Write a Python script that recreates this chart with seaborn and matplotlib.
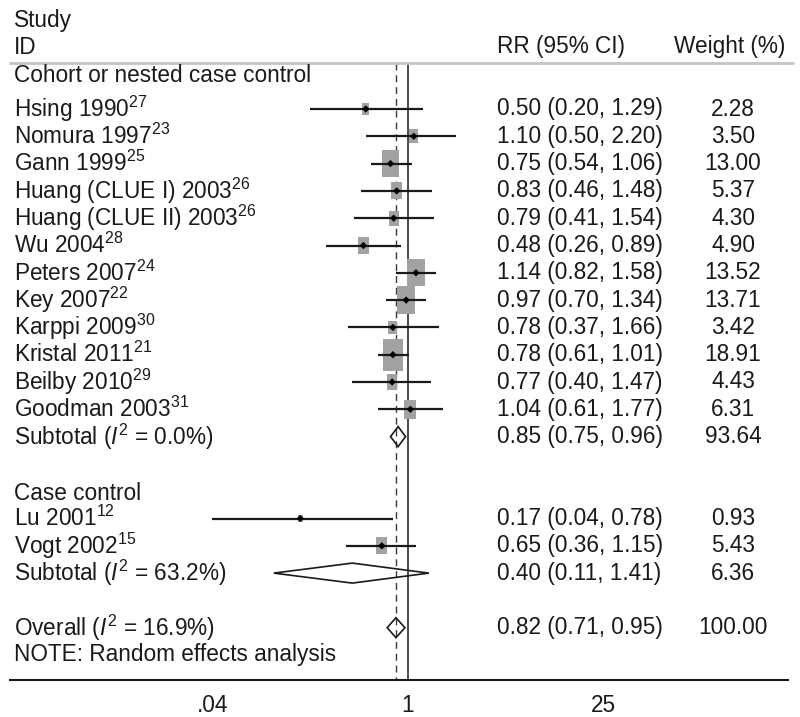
import numpy as np
import pandas as pd
import seaborn as sns
import matplotlib
matplotlib.use("Agg")
import matplotlib.pyplot as plt
from matplotlib import transforms
from matplotlib.markers import MarkerStyle
from matplotlib.path import Path
from matplotlib.ticker import NullLocator

# study level data
cohort_names = ["Hsing 1990", "Nomura 1997", "Gann 1999", "Huang (CLUE I) 2003",
                "Huang (CLUE II) 2003", "Wu 2004", "Peters 2007", "Key 2007",
                "Karppi 2009", "Kristal 2011", "Beilby 2010", "Goodman 2003"]
cohort_refs = ["27", "23", "25", "26", "26", "28", "24", "22", "30", "21", "29", "31"]
cohort_rr = [0.50, 1.10, 0.75, 0.83, 0.79, 0.48, 1.14, 0.97, 0.78, 0.78, 0.77, 1.04]
cohort_lo = [0.20, 0.50, 0.54, 0.46, 0.41, 0.26, 0.82, 0.70, 0.37, 0.61, 0.40, 0.61]
cohort_hi = [1.29, 2.20, 1.06, 1.48, 1.54, 0.89, 1.58, 1.34, 1.66, 1.01, 1.47, 1.77]
cohort_w = [2.28, 3.50, 13.00, 5.37, 4.30, 4.90, 13.52, 13.71, 3.42, 18.91, 4.43, 6.31]

case_names = ["Lu 2001", "Vogt 2002"]
case_refs = ["12", "15"]
case_rr = [0.17, 0.65]
case_lo = [0.04, 0.36]
case_hi = [0.78, 1.15]
case_w = [0.93, 5.43]

# pooled estimates: cohort subtotal, case control subtotal, overall
pooled_labels = ["Subtotal", "Subtotal", "Overall"]
pooled_i2 = ["0.0", "63.2", "16.9"]
pooled_rr = [0.85, 0.40, 0.82]
pooled_lo = [0.75, 0.11, 0.71]
pooled_hi = [0.96, 1.41, 0.95]
pooled_w = [93.64, 6.36, 100.00]

tick_vals = [0.04, 1, 25]
tick_labels = [".04", "1", "25"]

sns.set_style("white")
plt.rcParams["font.family"] = ["Liberation Sans", "DejaVu Sans"]
plt.rcParams["mathtext.fontset"] = "custom"
plt.rcParams["mathtext.rm"] = "Liberation Sans"
plt.rcParams["mathtext.it"] = "Liberation Sans:italic"
FS = 16.3
INK = "#1a1a1a"

# layout in pixels of the 800x717 picture
X_ONE, PX_DEC = 408, 140
ROW0, STEP = 109, 27.3

fig = plt.figure(figsize=(8, 7.17), dpi=100)
ax = fig.add_axes([10 / 800, (717 - 680) / 717, 778 / 800, 680 / 717])
ax.set_xscale("log")
ax.set_xlim(10 ** ((10 - X_ONE) / PX_DEC), 10 ** ((788 - X_ONE) / PX_DEC))
ax.set_ylim((680 - ROW0) / STEP, (0 - ROW0) / STEP)

# rows
cohort_rows = list(range(len(cohort_names)))
sub1_row = len(cohort_names)
case_head_row = sub1_row + 2.1
case_rows = [sub1_row + 3 + i for i in range(len(case_names))]
sub2_row = case_rows[-1] + 1
overall_row = sub2_row + 2
note_row = overall_row + 1
pooled_rows = [sub1_row, sub2_row, overall_row]
head_line = (63 - ROW0) / STEP

df = pd.DataFrame({
    "name": cohort_names + case_names,
    "ref": cohort_refs + case_refs,
    "rr": cohort_rr + case_rr,
    "lo": cohort_lo + case_lo,
    "hi": cohort_hi + case_hi,
    "w": cohort_w + case_w,
    "row": cohort_rows + case_rows,
})

# reference lines
ybot = ax.get_ylim()[0]
ax.vlines(1, head_line, ybot, color=INK, lw=1.1, zorder=1)
ax.vlines(pooled_rr[-1], head_line, ybot, color="#3a3a3a", lw=1.0,
          linestyles=(0, (5, 3.5)), zorder=1)

# weight boxes (area proportional to weight, slightly tall)
box = MarkerStyle(Path([(-0.65, -1), (0.65, -1), (0.65, 1), (-0.65, 1), (-0.65, -1)], closed=True))
wmin, wmax = df["w"].min(), df["w"].max()
sns.scatterplot(data=df, x="rr", y="row", size="w", sizes=(28 * wmin, 28 * wmax),
                size_norm=(wmin, wmax), marker=box, color="#a2a2a2",
                edgecolor="none", linewidth=0, legend=False, ax=ax, zorder=2)
ax.hlines(df["row"], df["lo"], df["hi"], color=INK, lw=1.6, zorder=3)
sns.scatterplot(data=df, x="rr", y="row", marker="D", s=14, color="black",
                edgecolor="none", legend=False, ax=ax, zorder=4)

# pooled diamonds
half = 10 / STEP
for est, lo, hi, r in zip(pooled_rr, pooled_lo, pooled_hi, pooled_rows):
    ax.fill([lo, est, hi, est, lo], [r, r - half, r, r + half, r],
            facecolor="none", edgecolor=INK, lw=1.2, zorder=5)

# axis styling
for side in ["top", "left", "right"]:
    ax.spines[side].set_visible(False)
ax.spines["bottom"].set_linewidth(1.5)
ax.spines["bottom"].set_color(INK)
ax.set_yticks([])
ax.set_xticks(tick_vals)
ax.set_xticklabels(tick_labels, fontsize=FS, color=INK)
ax.xaxis.set_minor_locator(NullLocator())
ax.tick_params(axis="x", length=5, width=1.1, pad=5, colors=INK)
ax.set_xlabel("")
ax.set_ylabel("")

# text columns
tr = transforms.blended_transform_factory(fig.transFigure, ax.transData)
XL, XRR, XW = 14 / 800, 497 / 800, 733 / 800


def put(x, r, s, ha="left"):
    ax.text(x, r, s, transform=tr, ha=ha, va="center", fontsize=FS, color=INK, clip_on=False)


put(XL, (20 - ROW0) / STEP, "Study")
put(XL, (47 - ROW0) / STEP, "ID")
put(XRR, (47 - ROW0) / STEP, "RR (95% CI)")
put(XW - 3 / 800, (47 - ROW0) / STEP, "Weight (%)", ha="center")
ax.plot([10 / 800, 793 / 800], [head_line, head_line], transform=tr, color="#c4c4c4",
        lw=2, clip_on=False, zorder=1)

put(XL, (76 - ROW0) / STEP, "Cohort or nested case control")
put(XL, case_head_row, "Case control")
for _, s in df.iterrows():
    put(XL, s["row"], f"{s['name']}$^{{{s['ref']}}}$")
    put(XRR, s["row"], f"{s['rr']:.2f} ({s['lo']:.2f}, {s['hi']:.2f})")
    put(XW, s["row"], f"{s['w']:.2f}", ha="center")

for lab, i2, est, lo, hi, w, r in zip(pooled_labels, pooled_i2, pooled_rr, pooled_lo,
                                       pooled_hi, pooled_w, pooled_rows):
    put(XL, r, f"{lab} ($\\mathit{{I}}^2$ = {i2}%)")
    put(XRR, r, f"{est:.2f} ({lo:.2f}, {hi:.2f})")
    put(XW, r, f"{w:.2f}", ha="center")

put(XL, note_row, "NOTE: Random effects analysis")

fig.savefig("out.png", dpi=100)
